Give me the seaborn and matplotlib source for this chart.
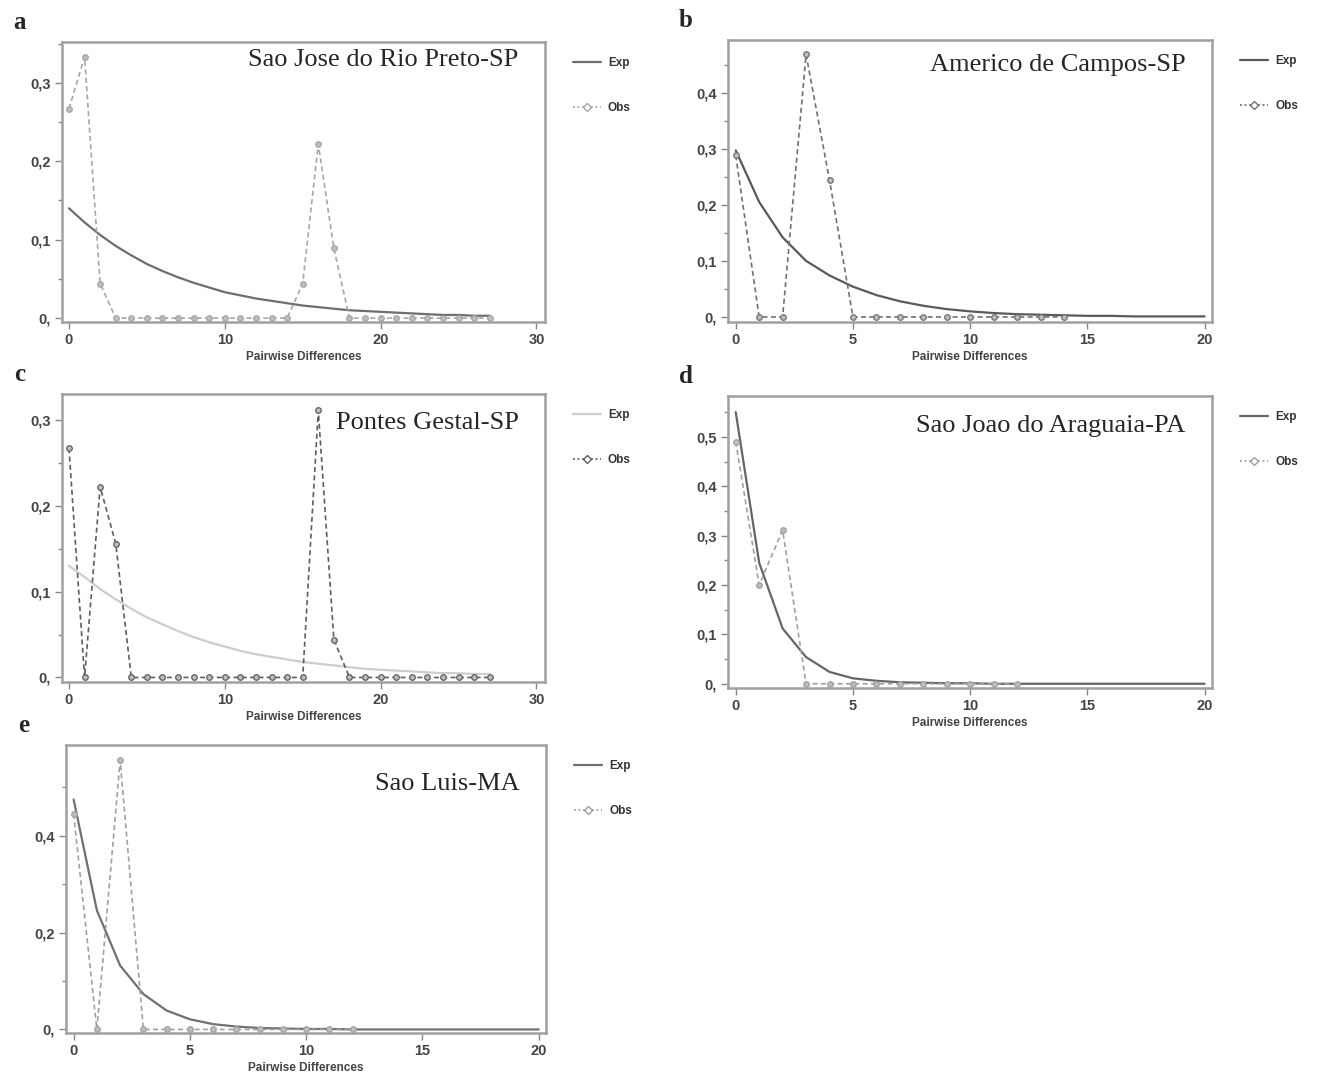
import pandas as pd
import seaborn as sns
import matplotlib.pyplot as plt
from matplotlib.lines import Line2D
from matplotlib.ticker import FuncFormatter, MultipleLocator

sns.set_style('white')
plt.rcParams['font.family'] = ['Liberation Sans', 'DejaVu Sans']

# Mismatch distributions (frequency vs number of pairwise differences)
a_obs_x = list(range(28))
a_obs = [0.267, 0.333, 0.044, 0, 0, 0, 0, 0, 0, 0, 0, 0, 0, 0, 0,
         0.044, 0.222, 0.089, 0, 0, 0, 0, 0, 0, 0, 0, 0, 0]
a_exp_x = list(range(28))
a_exp = [0.140, 0.122, 0.106, 0.092, 0.080, 0.069, 0.060, 0.052, 0.045, 0.039,
         0.033, 0.029, 0.025, 0.022, 0.019, 0.016, 0.014, 0.012, 0.010, 0.009,
         0.008, 0.007, 0.006, 0.005, 0.004, 0.004, 0.003, 0.003]

b_obs_x = list(range(15))
b_obs = [0.288, 0, 0, 0.468, 0.244, 0, 0, 0, 0, 0, 0, 0, 0, 0, 0]
b_exp_x = list(range(21))
b_exp = [0.297, 0.205, 0.142, 0.100, 0.074, 0.054, 0.039, 0.028, 0.020, 0.014,
         0.010, 0.007, 0.005, 0.004, 0.003, 0.002, 0.002, 0.001, 0.001, 0.001, 0.001]

c_obs_x = list(range(28))
c_obs = [0.267, 0, 0.222, 0.156, 0, 0, 0, 0, 0, 0, 0, 0, 0, 0, 0, 0,
         0.311, 0.044, 0, 0, 0, 0, 0, 0, 0, 0, 0, 0]
c_exp_x = list(range(28))
c_exp = [0.130, 0.117, 0.103, 0.091, 0.080, 0.070, 0.062, 0.054, 0.047, 0.041,
         0.036, 0.031, 0.027, 0.024, 0.021, 0.018, 0.016, 0.014, 0.012, 0.010,
         0.009, 0.008, 0.007, 0.006, 0.005, 0.005, 0.004, 0.004]

d_obs_x = list(range(13))
d_obs = [0.490, 0.200, 0.311, 0, 0, 0, 0, 0, 0, 0, 0, 0, 0]
d_exp_x = list(range(21))
d_exp = [0.550, 0.245, 0.112, 0.054, 0.024, 0.011, 0.006, 0.003, 0.002, 0.001,
         0.001, 0, 0, 0, 0, 0, 0, 0, 0, 0, 0]

e_obs_x = list(range(13))
e_obs = [0.445, 0, 0.556, 0, 0, 0, 0, 0, 0, 0, 0, 0, 0]
e_exp_x = list(range(21))
e_exp = [0.475, 0.246, 0.132, 0.073, 0.039, 0.021, 0.011, 0.006, 0.003, 0.002,
         0.001, 0.001, 0, 0, 0, 0, 0, 0, 0, 0, 0]

panels = [
    # letter, title, title y, obs, exp, xlim, xstep, ylim, ystep, exp colour, obs colour
    ('a', 'Sao Jose do Rio Preto-SP', 0.935, (a_obs_x, a_obs), (a_exp_x, a_exp),
     (-0.45, 30.55), 10, (-0.005, 0.352), 0.1, '#6e6e6e', '#a6a6a6'),
    ('b', 'Americo de Campos-SP', 0.91, (b_obs_x, b_obs), (b_exp_x, b_exp),
     (-0.33, 20.33), 5, (-0.009, 0.494), 0.1, '#5a5a5a', '#707070'),
    ('c', 'Pontes Gestal-SP', 0.9, (c_obs_x, c_obs), (c_exp_x, c_exp),
     (-0.45, 30.55), 10, (-0.005, 0.33), 0.1, '#cdcdcd', '#5e5e5e'),
    ('d', 'Sao Joao do Araguaia-PA', 0.9, (d_obs_x, d_obs), (d_exp_x, d_exp),
     (-0.33, 20.33), 5, (-0.009, 0.582), 0.1, '#666666', '#a0a0a0'),
    ('e', 'Sao Luis-MA', 0.865, (e_obs_x, e_obs), (e_exp_x, e_exp),
     (-0.33, 20.33), 5, (-0.007, 0.587), 0.2, '#707070', '#a0a0a0'),
]

# axes boxes in figure fractions [left, bottom, width, height]
boxes = [
    [0.0467, 0.701, 0.364, 0.260],
    [0.5486, 0.701, 0.365, 0.262],
    [0.0467, 0.367, 0.364, 0.267],
    [0.5486, 0.361, 0.365, 0.271],
    [0.0497, 0.041, 0.362, 0.267],
]


def comma_fmt(v, pos):
    if abs(v) < 1e-9:
        return '0,'
    return f'{v:.1f}'.replace('.', ',')


fig = plt.figure(figsize=(13.27, 10.77), dpi=100)

for (letter, title, ty, obs, exp, xlim, xstep, ylim, ystep, ecol, ocol), box in zip(panels, boxes):
    ax = fig.add_axes(box)
    exp_df = pd.DataFrame({'diff': exp[0], 'freq': exp[1]})
    obs_df = pd.DataFrame({'diff': obs[0], 'freq': obs[1]})
    sns.lineplot(data=exp_df, x='diff', y='freq', ax=ax, color=ecol, lw=1.6)
    sns.lineplot(data=obs_df, x='diff', y='freq', ax=ax, color=ocol, lw=1.2,
                 linestyle=(0, (3, 2)), marker='o', markersize=4,
                 markerfacecolor='#bdbdbd', markeredgecolor=ocol, markeredgewidth=0.9)
    ax.set_xlim(*xlim)
    ax.set_ylim(*ylim)
    ax.xaxis.set_major_locator(MultipleLocator(xstep))
    ax.yaxis.set_major_locator(MultipleLocator(ystep))
    ax.yaxis.set_minor_locator(MultipleLocator(ystep / 2))
    ax.yaxis.set_major_formatter(FuncFormatter(comma_fmt))
    ax.tick_params(axis='both', which='major', direction='out', length=5, width=1,
                   color='#888888', labelsize=10.5, pad=3)
    ax.tick_params(axis='y', which='minor', direction='out', length=3, width=1,
                   color='#888888', left=True)
    ax.tick_params(axis='x', bottom=True)
    ax.tick_params(axis='y', left=True)
    for lab in ax.get_xticklabels() + ax.get_yticklabels():
        lab.set_fontweight('bold')
        lab.set_color('#444444')
    for sp in ax.spines.values():
        sp.set_color('#a0a0a0')
        sp.set_linewidth(1.8)
    ax.set_xlabel('Pairwise Differences', fontsize=8.5, fontweight='bold', color='#444444',
                  labelpad=3)
    ax.set_ylabel('')
    ax.text(0.945, ty, title, transform=ax.transAxes, ha='right', va='center',
            fontsize=19, family=['Liberation Serif', 'DejaVu Serif'])
    fig.text(box[0] - 0.032, box[1] + box[3] + 0.018, letter, ha='center', va='center',
             fontsize=18, fontweight='bold', family=['Liberation Serif', 'DejaVu Serif'])
    handles = [
        Line2D([], [], color=ecol, lw=1.6),
        Line2D([], [], color=ocol, lw=1.3, linestyle=(0, (1, 1.5)), marker='D',
               markersize=4, markerfacecolor='white', markeredgecolor=ocol),
    ]
    leg = ax.legend(handles, ['Exp', 'Obs'], loc='upper left', bbox_to_anchor=(1.035, 0.985),
                    frameon=False, fontsize=8.5, handlelength=2.4, labelspacing=2.8,
                    handletextpad=0.6)
    for t in leg.get_texts():
        t.set_fontweight('bold')
        t.set_color('#333333')

fig.savefig('out.png', dpi=100, facecolor='white')
